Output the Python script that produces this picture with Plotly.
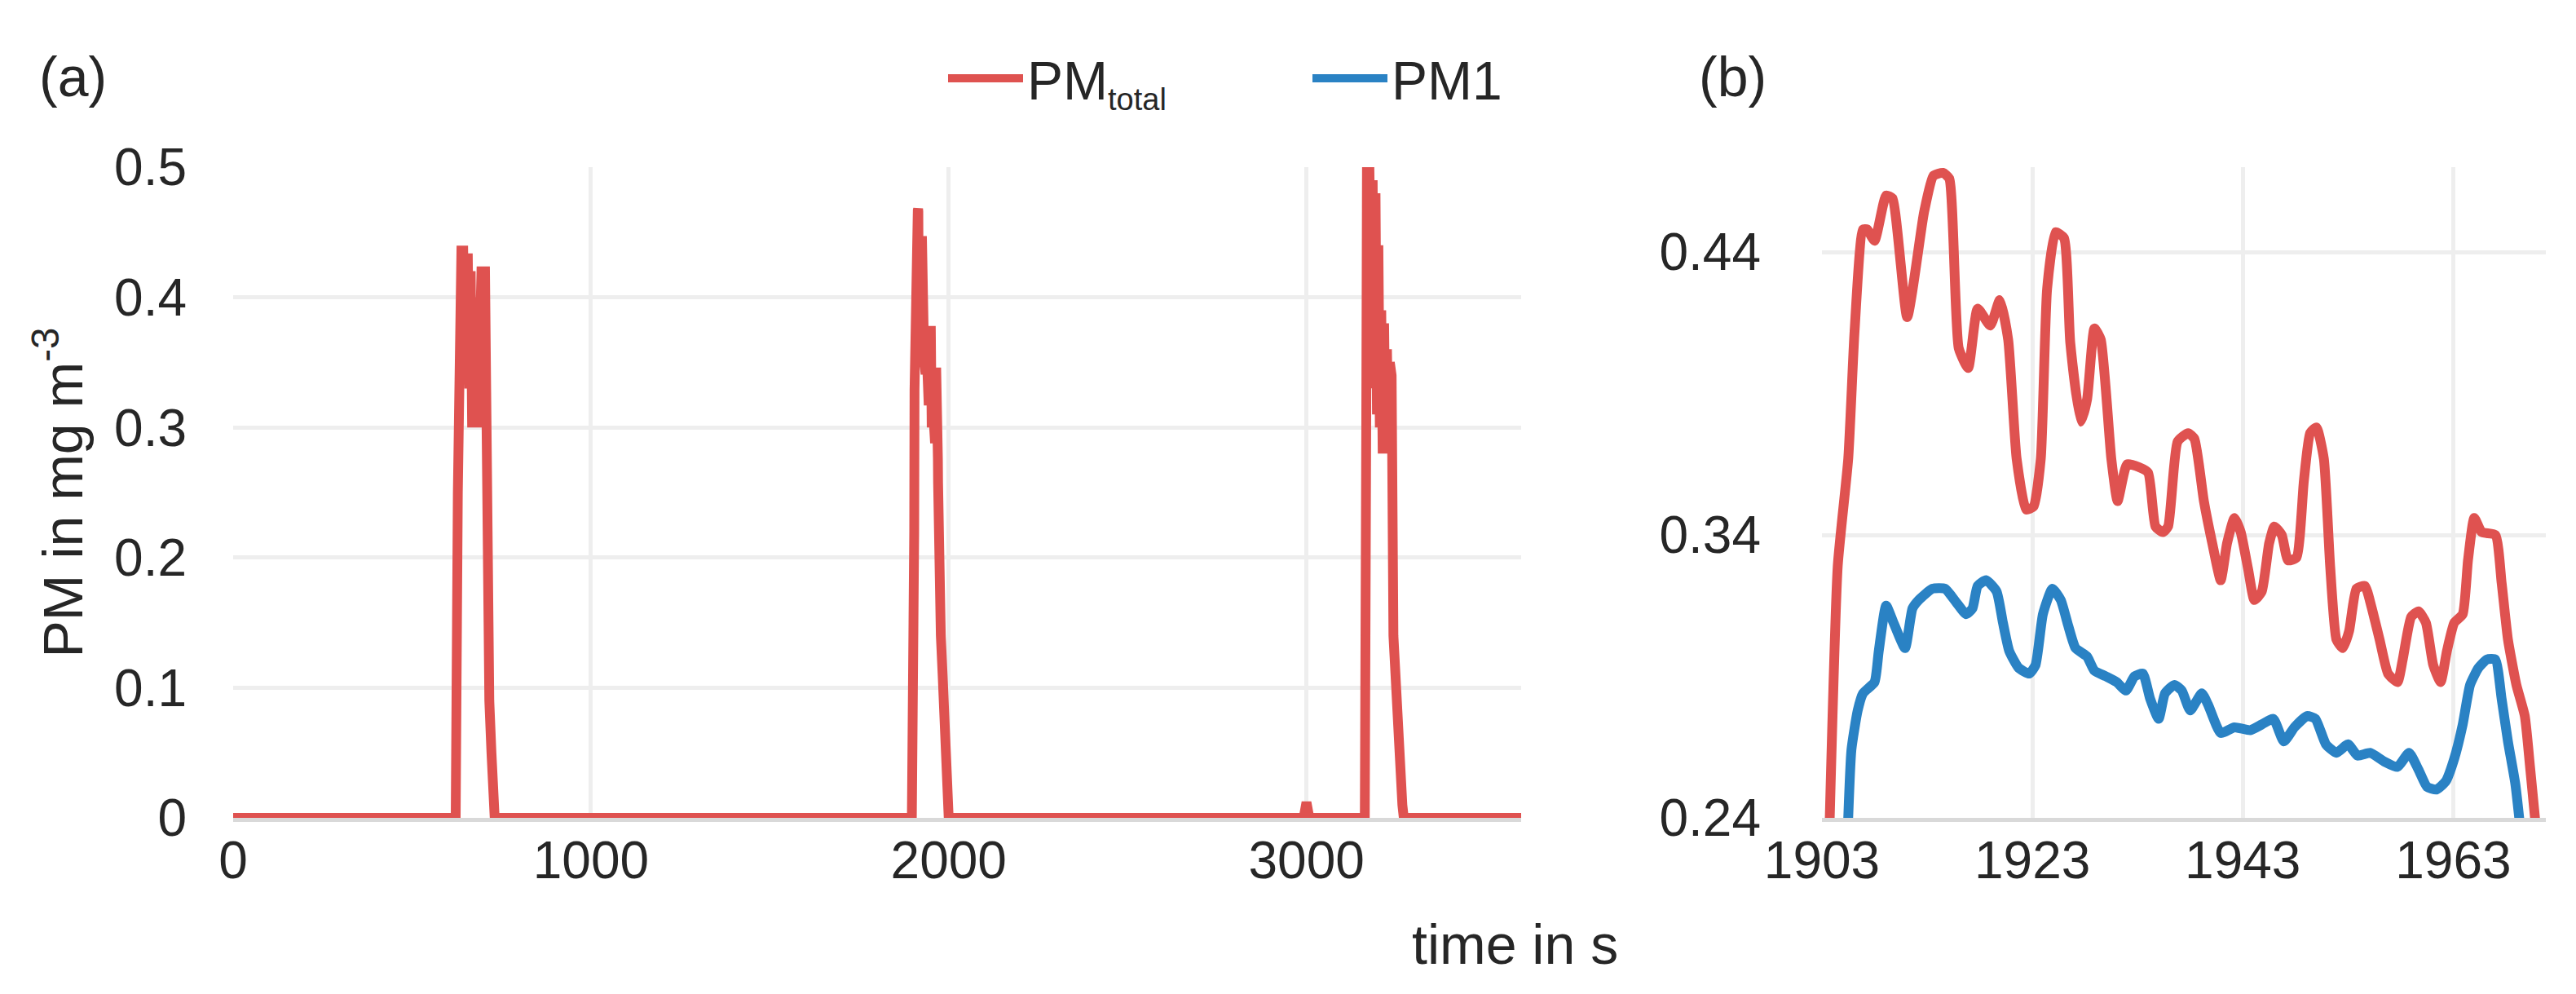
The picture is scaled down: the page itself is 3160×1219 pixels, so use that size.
import plotly.graph_objects as go

# ---- panel (a): PM_total over the whole run (s, mg m-3) ----
spike1_t = [622, 628, 632, 638, 643, 647, 651, 656, 660, 664, 668, 672, 676, 680,
            684, 688, 694, 704, 708, 711, 716, 722, 726, 731]
spike1_v = [0, 0.25, 0.42, 0.436, 0.436, 0.34, 0.43, 0.43, 0.33, 0.42, 0.30, 0.40,
            0.30, 0.39, 0.30, 0.42, 0.42, 0.42, 0.20, 0.11, 0.09, 0.05, 0.02, 0]

rise2_t = [1897, 1901, 1902.8]
rise2_v = [0, 0.08, 0.16]
fall2_t = [1973, 1978, 1983, 1988, 1993, 1997, 2000]
fall2_v = [0.20, 0.14, 0.11, 0.08, 0.05, 0.02, 0]

blip_t = [2992, 3000, 3008]
blip_v = [0, 0.012, 0]

spike3_t = [3163, 3167, 3169, 3176, 3181, 3185, 3189, 3193, 3197, 3201, 3205, 3209,
            3213, 3217, 3221, 3225, 3229, 3233, 3238, 3243, 3249, 3255, 3262, 3268, 3272]
spike3_v = [0, 0.30, 0.497, 0.497, 0.40, 0.49, 0.33, 0.48, 0.31, 0.44, 0.30, 0.39,
            0.28, 0.38, 0.28, 0.36, 0.29, 0.35, 0.34, 0.14, 0.10, 0.07, 0.04, 0.01, 0]

# ---- panel (b): zoom on the second event ----
zoom_red_t = [1903.6, 1904.5, 1905.5, 1906.1, 1906.9, 1907.3, 1908.0, 1909.1, 1909.7,
              1911.1, 1912.7, 1913.6, 1914.5, 1915.1, 1916.0, 1916.9, 1917.8, 1919.0,
              1919.9, 1920.7, 1921.5, 1922.4, 1923.1, 1923.8, 1924.4, 1925.2, 1926.0,
              1926.6, 1927.6, 1928.2, 1928.9, 1929.5, 1930.5, 1931.1, 1932.0, 1933.1,
              1934.0, 1934.7, 1935.4, 1935.9, 1936.8, 1937.8, 1938.4, 1939.3, 1940.1,
              1940.9, 1941.5, 1942.2, 1942.8, 1943.5, 1944.1, 1944.8, 1945.5, 1946.0,
              1946.7, 1947.3, 1948.1, 1948.8, 1949.4, 1950.0, 1950.7, 1951.3, 1951.9,
              1952.5, 1953.1, 1953.8, 1954.6, 1955.2, 1956.0, 1956.8, 1957.7, 1958.2,
              1959.0, 1959.7, 1960.4, 1961.1, 1961.8, 1962.4, 1963.1, 1963.9, 1964.4,
              1965.0, 1965.7, 1967.0, 1967.6, 1968.2, 1969.0, 1969.8, 1970.3, 1970.9]
zoom_red_v = [0.22, 0.329, 0.367, 0.412, 0.448, 0.448, 0.444, 0.460, 0.459,
              0.417, 0.454, 0.467, 0.468, 0.466, 0.406, 0.399, 0.420, 0.414,
              0.423, 0.409, 0.367, 0.349, 0.350, 0.367, 0.427, 0.447, 0.445,
              0.408, 0.380, 0.388, 0.413, 0.409, 0.367, 0.352, 0.365, 0.364,
              0.362, 0.343, 0.341, 0.343, 0.373, 0.376, 0.374, 0.352, 0.337,
              0.324, 0.337, 0.346, 0.341, 0.328, 0.317, 0.320, 0.337, 0.343,
              0.340, 0.331, 0.332, 0.359, 0.376, 0.378, 0.367, 0.329, 0.303,
              0.300, 0.306, 0.321, 0.322, 0.315, 0.303, 0.291, 0.288, 0.296,
              0.311, 0.313, 0.309, 0.294, 0.288, 0.299, 0.309, 0.312, 0.331,
              0.346, 0.341, 0.340, 0.323, 0.303, 0.287, 0.276, 0.258, 0.235]

zoom_blue_t = [1905.4, 1905.8, 1906.4, 1906.9, 1908.0, 1908.4, 1909.1, 1909.8, 1910.9,
               1911.6, 1912.2, 1913.5, 1914.7, 1915.8, 1916.7, 1917.3, 1917.8, 1918.6,
               1919.6, 1920.2, 1920.8, 1921.7, 1922.7, 1923.3, 1924.0, 1924.9, 1925.7,
               1926.4, 1927.1, 1928.2, 1928.9, 1930.0, 1931.0, 1931.9, 1932.7, 1933.5,
               1934.2, 1935.0, 1935.6, 1936.5, 1937.2, 1938.0, 1939.1, 1939.7, 1940.9,
               1942.2, 1943.7, 1944.8, 1945.9, 1946.9, 1947.9, 1949.1, 1949.9, 1950.9,
               1951.9, 1953.0, 1953.9, 1955.1, 1956.4, 1957.7, 1958.8, 1959.7, 1960.5,
               1961.4, 1962.3, 1963.1, 1963.9, 1964.6, 1965.4, 1966.2, 1967.0, 1967.6,
               1968.2, 1968.9, 1969.5]
zoom_blue_v = [0.23, 0.264, 0.278, 0.284, 0.288, 0.299, 0.315, 0.309, 0.300,
               0.314, 0.317, 0.321, 0.321, 0.316, 0.312, 0.314, 0.322, 0.324,
               0.320, 0.309, 0.299, 0.293, 0.291, 0.294, 0.312, 0.321, 0.317,
               0.308, 0.300, 0.297, 0.292, 0.290, 0.288, 0.285, 0.290, 0.291,
               0.282, 0.275, 0.284, 0.287, 0.285, 0.278, 0.284, 0.280, 0.270,
               0.272, 0.271, 0.273, 0.275, 0.267, 0.272, 0.276, 0.275, 0.266,
               0.263, 0.266, 0.262, 0.263, 0.260, 0.258, 0.263, 0.257, 0.251,
               0.250, 0.253, 0.261, 0.273, 0.287, 0.293, 0.296, 0.296, 0.282,
               0.267, 0.252, 0.232]

RED = "#DF5250"
BLUE = "#2A82C4"
GRID = "#EEEEEE"
AXIS = "#D9D9D9"
TXT = "#262626"
FONT = "Liberation Sans, Arial, sans-serif"
LW = 12

# whole-run series: zero baseline with the three events
run_t = ([0] + spike1_t + rise2_t + zoom_red_t + fall2_t + blip_t + spike3_t + [3600])
run_v = ([0] + spike1_v + rise2_v + zoom_red_v + fall2_v + blip_v + spike3_v + [0])

fig = go.Figure()
fig.add_trace(go.Scatter(x=run_t, y=run_v, mode="lines", xaxis="x", yaxis="y",
                         name="PM<sub><span style='font-size:38px'>total</span></sub>",
                         line=dict(color=RED, width=LW)))
fig.add_trace(go.Scatter(x=zoom_red_t, y=zoom_red_v, mode="lines", xaxis="x2", yaxis="y2",
                         showlegend=False,
                         line=dict(color=RED, width=LW, shape="spline", smoothing=0.5)))
fig.add_trace(go.Scatter(x=zoom_blue_t, y=zoom_blue_v, mode="lines", xaxis="x2", yaxis="y2",
                         name="PM1",
                         line=dict(color=BLUE, width=LW, shape="spline", smoothing=0.5)))

W, H = 3160, 1219
L, R, T, B = 278, 45, 197, 224
PW, PH = W - L - R, H - T - B


def px(x):
    return (x - L) / PW


def py(y):
    return (H - B - y) / PH


axis_common = dict(showgrid=True, gridcolor=GRID, gridwidth=5, zeroline=False,
                   tickfont=dict(size=64, color=TXT), ticks="")

fig.update_layout(
    width=W, height=H,
    margin=dict(l=L, r=R, t=T, b=B),
    paper_bgcolor="white", plot_bgcolor="white",
    font=dict(family=FONT, color=TXT, size=64),
    xaxis=dict(domain=[0, px(1858)], range=[0, 3600], tick0=0, dtick=1000,
               showline=True, linecolor=AXIS, linewidth=5, ticklabelstandoff=-8,
               **axis_common),
    yaxis=dict(domain=[0, 1], range=[0, 0.5], tick0=0, dtick=0.1, anchor="x",
               ticklabelstandoff=56,
               title=dict(text="PM in mg m<sup>-3</sup>", font=dict(size=68), standoff=16),
               **axis_common),
    xaxis2=dict(domain=[px(2227), 1], range=[1903, 1971.8], tick0=1903, dtick=20,
                anchor="y2", showline=True, linecolor=AXIS, linewidth=5,
                ticklabelstandoff=-8, **axis_common),
    yaxis2=dict(domain=[0, 1], range=[0.24, 0.47], tick0=0.24, dtick=0.1, anchor="x2",
                ticklabelstandoff=74, **axis_common),
    legend=dict(orientation="h", x=px(1150), xanchor="left", y=py(88), yanchor="middle",
                font=dict(size=66, color=TXT), itemwidth=92, entrywidth=340,
                bgcolor="rgba(0,0,0,0)"),
    annotations=[
        dict(text="(a)", x=px(38), y=py(86), xref="paper", yref="paper",
             xanchor="left", yanchor="middle", showarrow=False, font=dict(size=68)),
        dict(text="(b)", x=px(2074), y=py(86), xref="paper", yref="paper",
             xanchor="left", yanchor="middle", showarrow=False, font=dict(size=68)),
        dict(text="time in s", x=px(1850), y=py(1150), xref="paper", yref="paper",
             xanchor="center", yanchor="middle", showarrow=False, font=dict(size=68)),
    ],
)

fig.write_html("out.html")
